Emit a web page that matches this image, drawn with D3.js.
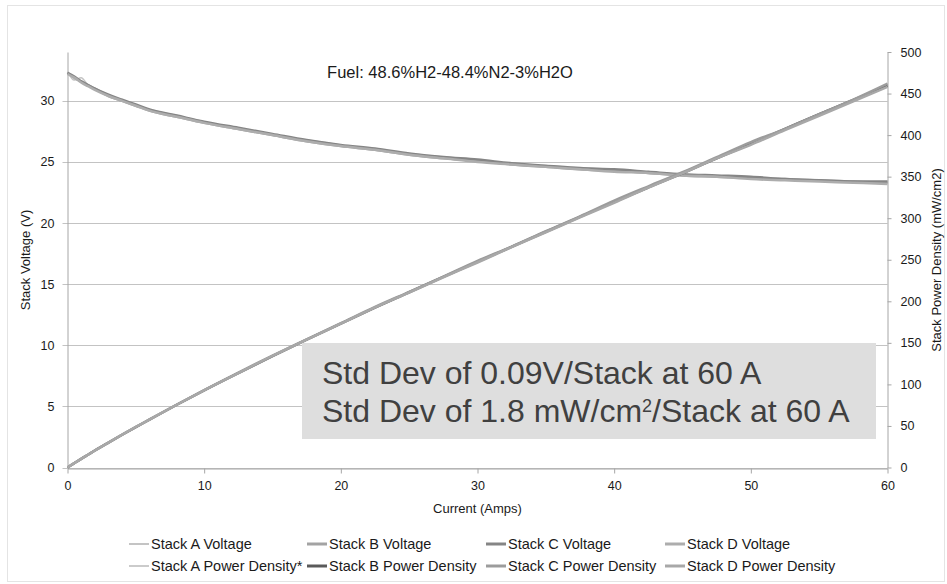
<!DOCTYPE html>
<html>
<head>
<meta charset="utf-8">
<script src="https://cdn.jsdelivr.net/npm/d3@7"></script>
<style>
  body { margin: 0; background: #fff; }
  text { font-family: "Liberation Sans", Arial, sans-serif; }
</style>
</head>
<body>
<svg id="chart" width="947" height="584"></svg>
<script>
// current (A) at which each stack was sampled
let current = [0, 0.5, 1, 1.5, 2, 3, 4, 5, 6, 8, 10, 12.5, 15, 17.5, 20, 22.5, 25, 27.5, 30, 32.5, 35, 37.5, 40, 42.5, 45, 47.5, 50, 52.5, 55, 57.5, 60];

// stack voltage (V)
let voltA = [32.4, 31.7, 31.9, 31.3, 31.0, 30.5, 30.0, 29.6, 29.3, 28.8, 28.3, 27.7, 27.2, 26.8, 26.4, 26.0, 25.7, 25.4, 25.1, 24.9, 24.7, 24.5, 24.3, 24.15, 24.0, 23.85, 23.7, 23.6, 23.5, 23.4, 23.3];
let voltB = [32.3, 31.9, 31.6, 31.3, 31.0, 30.4, 30.0, 29.6, 29.2, 28.7, 28.2, 27.7, 27.2, 26.7, 26.3, 26.0, 25.6, 25.3, 25.1, 24.8, 24.6, 24.4, 24.3, 24.1, 23.9, 23.8, 23.7, 23.6, 23.5, 23.4, 23.3];
let voltC = [32.3, 32.0, 31.6, 31.3, 31.0, 30.5, 30.1, 29.7, 29.3, 28.8, 28.3, 27.8, 27.3, 26.8, 26.4, 26.1, 25.7, 25.4, 25.2, 24.9, 24.7, 24.5, 24.4, 24.2, 24.0, 23.9, 23.8, 23.6, 23.5, 23.4, 23.4];
let voltD = [32.2, 31.9, 31.5, 31.2, 30.9, 30.4, 30.0, 29.6, 29.2, 28.7, 28.2, 27.7, 27.2, 26.7, 26.3, 26.0, 25.6, 25.3, 25.0, 24.8, 24.6, 24.4, 24.2, 24.1, 23.9, 23.8, 23.6, 23.5, 23.4, 23.3, 23.2];

// stack power density (mW/cm2)
let powA = [0, 5.3, 10.4, 15.6, 20.4, 30.1, 39.5, 48.7, 57.8, 75.8, 93.1, 113.9, 134.2, 154.3, 173.7, 192.5, 211.4, 229.8, 247.7, 266.2, 284.4, 302.3, 319.8, 337.7, 355.3, 372.7, 389.9, 407.6, 425.2, 442.7, 460.0];
let powB = [0, 5.2, 10.4, 15.4, 20.4, 30.0, 39.4, 48.6, 57.6, 75.5, 92.8, 113.6, 134.0, 153.8, 173.2, 192.3, 210.9, 229.3, 247.6, 265.6, 283.7, 301.6, 319.6, 337.0, 354.1, 372.0, 389.6, 407.4, 425.2, 442.4, 459.6];
let powC = [0, 5.3, 10.4, 15.4, 20.4, 30.1, 39.6, 48.9, 57.8, 75.8, 93.1, 114.3, 134.7, 154.3, 173.7, 193.2, 211.4, 229.8, 248.7, 265.8, 284.4, 302.3, 321.1, 338.4, 355.3, 373.5, 391.6, 407.6, 425.2, 442.7, 461.9];
let powD = [0, 5.2, 10.4, 15.4, 20.3, 30.0, 39.5, 48.7, 57.6, 75.5, 92.8, 113.6, 134.2, 153.8, 173.0, 192.4, 210.5, 228.8, 246.7, 265.2, 283.0, 300.9, 318.5, 336.8, 353.9, 372.0, 388.3, 406.0, 423.2, 440.7, 458.0];

let xTicks = [0, 10, 20, 30, 40, 50, 60];
let voltTicks = [0, 5, 10, 15, 20, 25, 30];
let powTicks = [0, 50, 100, 150, 200, 250, 300, 350, 400, 450, 500];

let seriesNames = ["Stack A Voltage", "Stack B Voltage", "Stack C Voltage", "Stack D Voltage",
  "Stack A Power Density*", "Stack B Power Density", "Stack C Power Density", "Stack D Power Density"];
let seriesColors = ["#c4c4c4", "#a3a3a3", "#858585", "#adadad", "#cbcbcb", "#5a5a5a", "#9c9c9c", "#a8a8a8"];
let seriesWidths = [1.5, 2.5, 2.5, 2.5, 1.5, 2.5, 2.5, 2.5];

let plotLeft = 67.5, plotRight = 887.5, plotTop = 52, plotBottom = 467.5;
let fontFamily = '"Liberation Sans", Arial, sans-serif';

let svg = d3.select("#chart");

// faint outer frame
svg.append("rect")
  .attr("x", 7.5).attr("y", 5.5)
  .attr("width", 937).attr("height", 576)
  .style("fill", "none")
  .style("stroke", "#e4e4e4");

let x = d3.scaleLinear().domain([0, 60]).range([plotLeft, plotRight]);
let yV = d3.scaleLinear().domain([0, 34]).range([plotBottom, plotTop]);
let yP = d3.scaleLinear().domain([0, 500]).range([plotBottom, plotTop]);

// horizontal gridlines at the voltage ticks
svg.selectAll(".grid")
  .data(voltTicks)
  .enter()
  .append("line")
    .attr("x1", plotLeft - 5)
    .attr("x2", plotRight)
    .attr("y1", function(d) { return Math.round(yV(d)) + 0.5; })
    .attr("y2", function(d) { return Math.round(yV(d)) + 0.5; })
    .style("stroke", "#c3c3c3")
    .style("stroke-width", "1px");

// axes
let xAxis = svg.append("g")
  .attr("transform", "translate(0," + (Math.round(plotBottom) + 0.5) + ")")
  .call(d3.axisBottom(x).tickValues(xTicks).tickSize(5).tickPadding(8).tickSizeOuter(0));
let leftAxis = svg.append("g")
  .attr("transform", "translate(" + plotLeft + ",0)")
  .call(d3.axisLeft(yV).tickValues(voltTicks).tickSize(0).tickPadding(13).tickSizeOuter(0));
let rightAxis = svg.append("g")
  .attr("transform", "translate(" + plotRight + ",0)")
  .call(d3.axisRight(yP).tickValues(powTicks).tickSize(4).tickPadding(9).tickSizeOuter(0));

[xAxis, leftAxis, rightAxis].forEach(function(g) {
  g.select(".domain").style("stroke", "#a6a6a6");
  g.selectAll(".tick line").style("stroke", "#a6a6a6");
  g.selectAll(".tick text")
    .style("font-family", fontFamily)
    .style("font-size", "12.5px")
    .style("fill", "#1a1a1a");
});
rightAxis.selectAll(".tick text").style("text-anchor", "start");

// series lines
let voltSeries = [voltA, voltB, voltC, voltD];
let powSeries = [powA, powB, powC, powD];

let voltLine = d3.line()
  .x(function(d, i) { return x(current[i]); })
  .y(function(d) { return yV(d); })
  .curve(d3.curveMonotoneX);
let powLine = d3.line()
  .x(function(d, i) { return x(current[i]); })
  .y(function(d) { return yP(d); })
  .curve(d3.curveMonotoneX);

svg.selectAll(".voltLine")
  .data(voltSeries)
  .enter()
  .append("path")
    .attr("d", voltLine)
    .style("fill", "none")
    .style("stroke", function(d, i) { return seriesColors[i]; })
    .style("stroke-width", function(d, i) { return seriesWidths[i]; })
    .style("stroke-linejoin", "round");

svg.selectAll(".powLine")
  .data(powSeries)
  .enter()
  .append("path")
    .attr("d", powLine)
    .style("fill", "none")
    .style("stroke", function(d, i) { return seriesColors[i + 4]; })
    .style("stroke-width", function(d, i) { return seriesWidths[i + 4]; })
    .style("stroke-linejoin", "round");

// title
svg.append("text")
  .attr("x", 450)
  .attr("y", 78)
  .text("Fuel: 48.6%H2-48.4%N2-3%H2O")
  .style("text-anchor", "middle")
  .style("font-family", fontFamily)
  .style("font-size", "16.5px")
  .style("fill", "#1a1a1a");

// axis titles
svg.append("text")
  .attr("x", 477.5)
  .attr("y", 513)
  .text("Current (Amps)")
  .style("text-anchor", "middle")
  .style("font-family", fontFamily)
  .style("font-size", "13px")
  .style("fill", "#1a1a1a");
svg.append("text")
  .attr("transform", "translate(30,260) rotate(-90)")
  .text("Stack Voltage (V)")
  .style("text-anchor", "middle")
  .style("font-family", fontFamily)
  .style("font-size", "13px")
  .style("fill", "#1a1a1a");
svg.append("text")
  .attr("transform", "translate(941,260) rotate(-90)")
  .text("Stack Power Density (mW/cm2)")
  .style("text-anchor", "middle")
  .style("font-family", fontFamily)
  .style("font-size", "13px")
  .style("fill", "#1a1a1a");

// annotation box
svg.append("rect")
  .attr("x", 302)
  .attr("y", 343)
  .attr("width", 574)
  .attr("height", 96)
  .style("fill", "#dedede");

let noteText = svg.append("text")
  .style("font-family", fontFamily)
  .style("font-size", "32px")
  .style("fill", "#404040");
noteText.append("tspan")
  .attr("x", 322)
  .attr("y", 384)
  .text("Std Dev of 0.09V/Stack at 60 A");
noteText.append("tspan")
  .attr("x", 322)
  .attr("y", 422)
  .text("Std Dev of 1.8 mW/cm");
noteText.append("tspan")
  .attr("dy", -10)
  .style("font-size", "18px")
  .text("2");
noteText.append("tspan")
  .attr("dy", 10)
  .text("/Stack at 60 A");

// legend
let legendX = [129, 307, 486, 665];
let legendY = [544, 566];

let legend = svg.selectAll(".legendItem")
  .data(seriesNames)
  .enter()
  .append("g")
    .attr("transform", function(d, i) { return "translate(" + legendX[i % 4] + "," + legendY[Math.floor(i / 4)] + ")"; });
legend.append("line")
  .attr("x1", 0)
  .attr("x2", 20)
  .attr("y1", 0)
  .attr("y2", 0)
  .style("stroke", function(d, i) { return seriesColors[i]; })
  .style("stroke-width", function(d, i) { return seriesWidths[i] + 0.5; });
legend.append("text")
  .attr("x", 22)
  .attr("y", 5)
  .text(function(d) { return d; })
  .style("font-family", fontFamily)
  .style("font-size", "14.5px")
  .style("fill", "#1a1a1a");
</script>
</body>
</html>
